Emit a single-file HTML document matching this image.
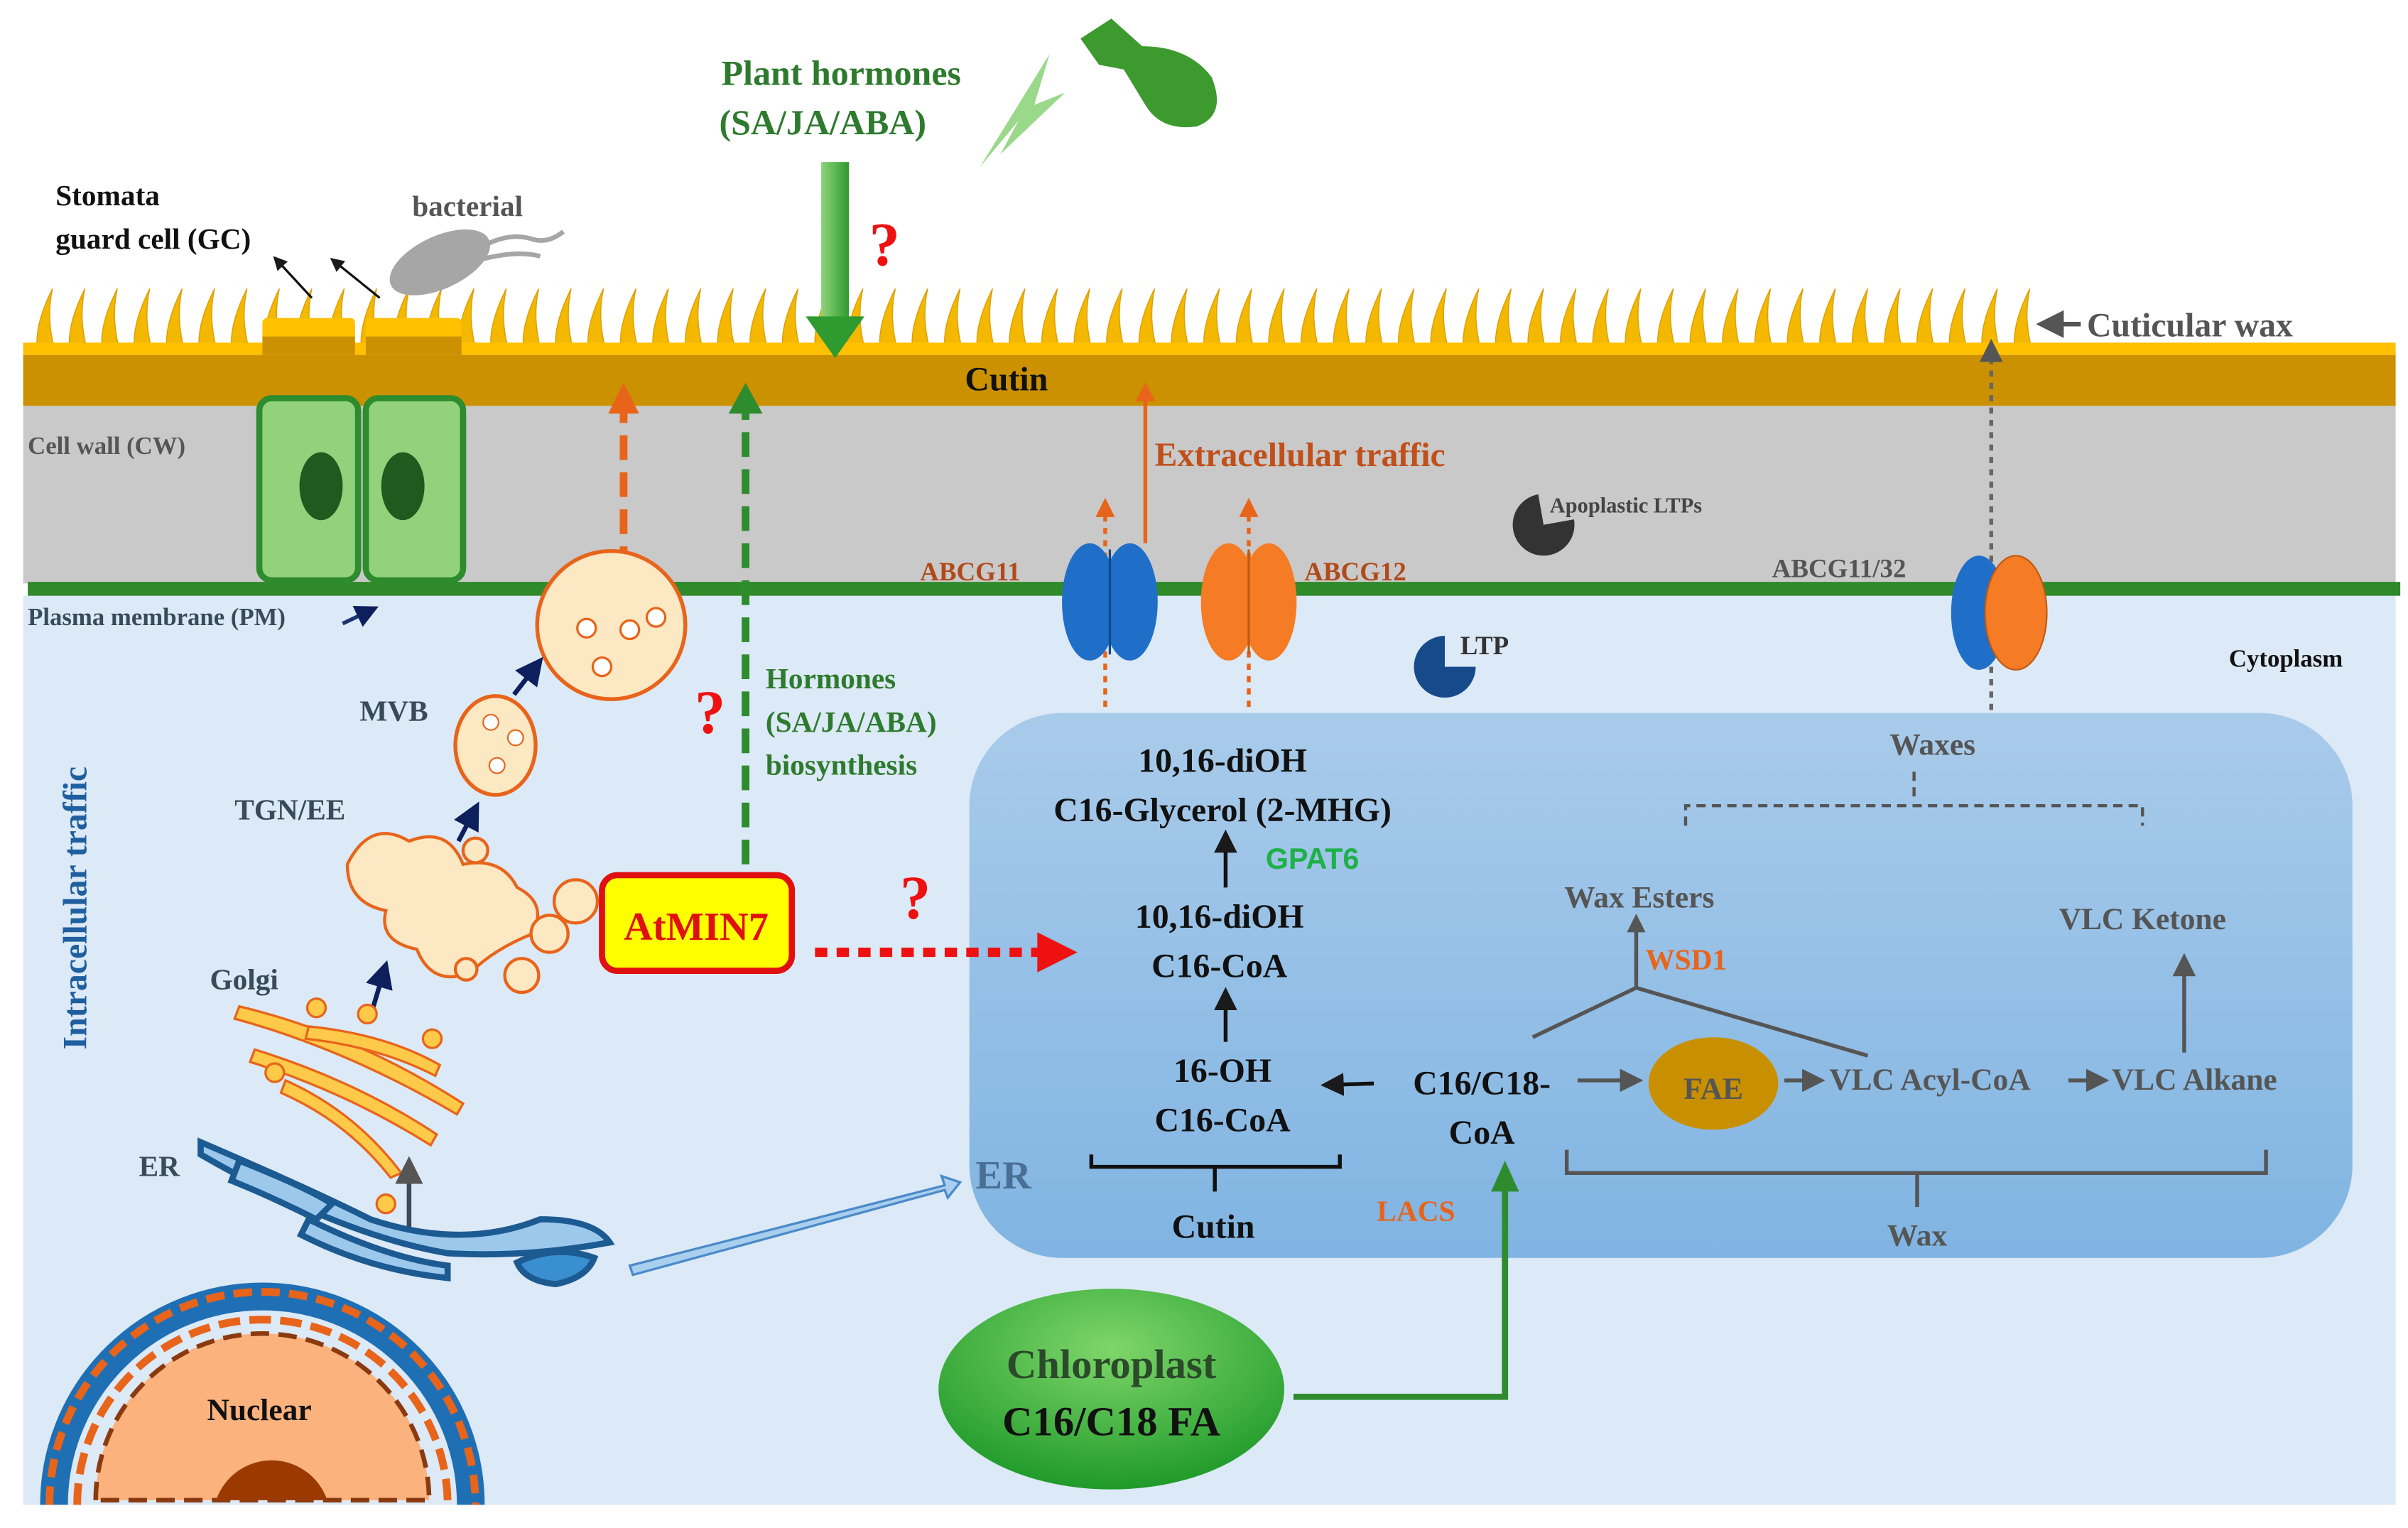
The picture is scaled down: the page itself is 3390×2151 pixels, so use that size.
<!DOCTYPE html>
<html><head><meta charset="utf-8"><style>html,body{margin:0;padding:0;background:#fff}svg{display:block}text{font-family:"Liberation Serif",serif;font-weight:bold}</style></head><body>
<svg width="3390" height="2151" viewBox="0 0 1560 990" preserveAspectRatio="none" xmlns="http://www.w3.org/2000/svg">
<defs>
<pattern id="wax" x="20" y="185" width="21" height="40" patternUnits="userSpaceOnUse">
<path d="M4 40 C3 28 8 14 14 2 C11 16 12 28 15 40 Z" fill="#f4b800" stroke="#d89a00" stroke-width="0.6"/>
</pattern>
<linearGradient id="erg" x1="0" y1="0" x2="0" y2="1"><stop offset="0" stop-color="#a9cbea"/><stop offset="1" stop-color="#80b4e2"/></linearGradient>
<radialGradient id="chl" cx="0.5" cy="0.3" r="0.7"><stop offset="0" stop-color="#7fd66a"/><stop offset="1" stop-color="#1f9a2a"/></radialGradient>
<linearGradient id="garr" x1="0" y1="0" x2="1" y2="0"><stop offset="0" stop-color="#8fd37a"/><stop offset="1" stop-color="#2f9a2f"/></linearGradient>
<marker id="ab" markerWidth="6" markerHeight="6" refX="5" refY="3" orient="auto"><path d="M0 0L6 3L0 6z" fill="#1a1a1a"/></marker>
<marker id="ag" markerWidth="6" markerHeight="6" refX="5" refY="3" orient="auto"><path d="M0 0L6 3L0 6z" fill="#555"/></marker>
<marker id="an" markerWidth="6" markerHeight="6" refX="5" refY="3" orient="auto"><path d="M0 0L6 3L0 6z" fill="#0d1f5c"/></marker>
<marker id="ao" markerWidth="5" markerHeight="5" refX="4" refY="2.5" orient="auto"><path d="M0 0L5 2.5L0 5z" fill="#e8641a"/></marker>
</defs>
<rect x="20" y="185" width="1305" height="40" fill="url(#wax)"/>
<rect x="15" y="222" width="1537" height="8" fill="#ffc000"/>
<rect x="15" y="230" width="1537" height="33" fill="#cc9100"/>
<rect x="15" y="263" width="1537" height="115" fill="#c9c9c9"/>
<rect x="15" y="386" width="1537" height="589" fill="#dce9f6"/>
<rect x="18" y="377" width="1537" height="9" fill="#2f8a2a"/>
<text x="652" y="253" font-size="22" text-anchor="middle" fill="#111">Cutin</text>
<rect x="170" y="206" width="60" height="24" rx="3" fill="#ffc000"/><rect x="170" y="218" width="60" height="12" fill="#cc9100"/>
<rect x="237" y="206" width="62" height="24" rx="3" fill="#ffc000"/><rect x="237" y="218" width="62" height="12" fill="#cc9100"/>
<rect x="168" y="258" width="64" height="118" rx="8" fill="#92d27a" stroke="#2e8b2e" stroke-width="4"/>
<rect x="237" y="258" width="63" height="118" rx="8" fill="#92d27a" stroke="#2e8b2e" stroke-width="4"/>
<ellipse cx="208" cy="315" rx="14" ry="22" fill="#1f5a1f"/><ellipse cx="261" cy="315" rx="14" ry="22" fill="#1f5a1f"/>
<text x="36" y="133" font-size="19" fill="#111">Stomata</text>
<text x="36" y="161" font-size="19" fill="#111">guard cell (GC)</text>
<line x1="202" y1="193" x2="178" y2="167" stroke="#111" stroke-width="1.5" marker-end="url(#ab)"/>
<line x1="246" y1="193" x2="215" y2="168" stroke="#111" stroke-width="1.5" marker-end="url(#ab)"/>
<text x="267" y="140" font-size="19" fill="#555">bacterial</text>
<ellipse cx="285" cy="170" rx="35" ry="17" transform="rotate(-25 285 170)" fill="#a6a6a6"/>
<path d="M312 160 Q330 150 345 155 Q355 158 365 150 M312 168 Q335 162 350 166" stroke="#a6a6a6" stroke-width="3" fill="none"/>
<text x="18" y="294" font-size="16" fill="#555">Cell wall (CW)</text>
<text x="18" y="405" font-size="16" fill="#3a4a5a">Plasma membrane (PM)</text>
<line x1="222" y1="404" x2="243" y2="394" stroke="#1a3370" stroke-width="2.5" marker-end="url(#an)"/>
<text x="545" y="55" font-size="23" text-anchor="middle" fill="#2e7a2e">Plant hormones</text>
<text x="533" y="87" font-size="23" text-anchor="middle" fill="#2e7a2e">(SA/JA/ABA)</text>
<path d="M635 108 L680 35 L670 68 L690 60 L648 100 L660 78 Z" fill="#9ad88a"/>
<path d="M700 25 L720 12 L740 30 Q770 30 785 50 Q795 75 775 82 Q752 85 742 68 L728 45 L712 42 Z" fill="#3d9a2e"/>
<rect x="532" y="105" width="18" height="105" fill="url(#garr)"/>
<path d="M522 205 L560 205 L541 232 Z" fill="#2f9a2f"/>
<text x="563" y="172" font-size="40" fill="#ee1111">?</text>
<text x="1352" y="218" font-size="22" fill="#555">Cuticular wax</text>
<line x1="1348" y1="210" x2="1322" y2="210" stroke="#555" stroke-width="3" marker-end="url(#ag)"/>
<line x1="404" y1="370" x2="404" y2="264" stroke="#e8641a" stroke-width="5" stroke-dasharray="16 8"/>
<path d="M394 268 L414 268 L404 248 Z" fill="#e8641a"/>
<line x1="483" y1="560" x2="483" y2="264" stroke="#2e8b2e" stroke-width="5" stroke-dasharray="16 8"/>
<path d="M472 268 L494 268 L483 248 Z" fill="#2e8b2e"/>
<text x="496" y="446" font-size="19" fill="#2e7a2e">Hormones</text>
<text x="496" y="474" font-size="19" fill="#2e7a2e">(SA/JA/ABA)</text>
<text x="496" y="502" font-size="19" fill="#2e7a2e">biosynthesis</text>
<text x="450" y="475" font-size="40" fill="#ee1111">?</text>
<line x1="742" y1="352" x2="742" y2="250" stroke="#e8641a" stroke-width="2.5" marker-end="url(#ao)"/>
<text x="748" y="302" font-size="22" fill="#c0501a">Extracellular  traffic</text>
<line x1="716" y1="458" x2="716" y2="325" stroke="#e8641a" stroke-width="2.5" stroke-dasharray="4 4" marker-end="url(#ao)"/>
<line x1="809" y1="458" x2="809" y2="325" stroke="#e8641a" stroke-width="2.5" stroke-dasharray="4 4" marker-end="url(#ao)"/>
<line x1="1290" y1="460" x2="1290" y2="222" stroke="#666" stroke-width="2.5" stroke-dasharray="4 4" marker-end="url(#ag)"/>
<text x="596" y="376" font-size="17" fill="#b14a1a">ABCG11</text>
<text x="845" y="376" font-size="17" fill="#b14a1a">ABCG12</text>
<text x="1148" y="374" font-size="17" fill="#555">ABCG11/32</text>
<ellipse cx="706" cy="390" rx="18" ry="38" fill="#1f6fc9"/><ellipse cx="732" cy="390" rx="18" ry="38" fill="#1f6fc9"/><line x1="719" y1="356" x2="719" y2="424" stroke="#0e4a90" stroke-width="1.5"/>
<ellipse cx="796" cy="390" rx="18" ry="38" fill="#f57c24"/><ellipse cx="822" cy="390" rx="18" ry="38" fill="#f57c24"/><line x1="809" y1="356" x2="809" y2="424" stroke="#c05a10" stroke-width="1.5"/>
<ellipse cx="1282" cy="397" rx="18" ry="37" fill="#1f6fc9"/><ellipse cx="1306" cy="397" rx="20" ry="37" fill="#f57c24" stroke="#c05a10"/>
<path d="M1000 340 L1000 320 A20 20 0 1 0 1020 340 Z" fill="#333" transform="rotate(-10 1000 340)"/>
<text x="1004" y="332" font-size="14" fill="#444">Apoplastic LTPs</text>
<path d="M936 432 L936 412 A20 20 0 1 0 956 432 Z" fill="#164a8a"/>
<text x="946" y="424" font-size="17" fill="#333">LTP</text>
<text x="1444" y="432" font-size="16" fill="#111">Cytoplasm</text>
<text transform="translate(56 680) rotate(-90)" font-size="22" fill="#1f5f9f">Intracellular  traffic</text>
<text x="233" y="467" font-size="19" fill="#3a4a5a">MVB</text>
<text x="152" y="531" font-size="19" fill="#3a4a5a">TGN/EE</text>
<text x="136" y="641" font-size="19" fill="#3a4a5a">Golgi</text>
<text x="90" y="762" font-size="19" fill="#3a4a5a">ER</text>
<circle cx="396" cy="405" r="48" fill="#fde8c4" stroke="#e8641a" stroke-width="2.5"/>
<circle cx="380" cy="407" r="6" fill="#fff" stroke="#e8641a" stroke-width="1.5"/><circle cx="408" cy="408" r="6" fill="#fff" stroke="#e8641a" stroke-width="1.5"/><circle cx="425" cy="400" r="6" fill="#fff" stroke="#e8641a" stroke-width="1.5"/><circle cx="390" cy="432" r="6" fill="#fff" stroke="#e8641a" stroke-width="1.5"/>
<ellipse cx="321" cy="483" rx="26" ry="32" fill="#fde8c4" stroke="#e8641a" stroke-width="2.5"/>
<circle cx="318" cy="468" r="5" fill="#fff" stroke="#e8641a"/><circle cx="334" cy="478" r="5" fill="#fff" stroke="#e8641a"/><circle cx="322" cy="496" r="5" fill="#fff" stroke="#e8641a"/>
<line x1="333" y1="450" x2="350" y2="428" stroke="#0d1f5c" stroke-width="3" marker-end="url(#an)"/>
<line x1="297" y1="545" x2="309" y2="522" stroke="#0d1f5c" stroke-width="3" marker-end="url(#an)"/>
<line x1="241" y1="655" x2="250" y2="625" stroke="#0d1f5c" stroke-width="3" marker-end="url(#an)"/>
<g fill="#fde8c4" stroke="#e8641a" stroke-width="2">
<path d="M225 560 Q240 530 265 545 Q290 535 300 560 Q325 555 335 575 Q355 585 345 605 Q320 615 305 630 Q280 640 270 615 Q245 610 250 590 Q225 585 225 560Z"/>
<circle cx="308" cy="551" r="8"/><circle cx="373" cy="584" r="14"/><circle cx="338" cy="632" r="11"/><circle cx="302" cy="628" r="7"/><circle cx="356" cy="605" r="12"/>
</g>
<g fill="#ffc94a" stroke="#e8641a" stroke-width="1.5">
<path d="M155 652 Q230 670 300 715 L296 722 Q225 680 152 660Z"/><path d="M165 680 Q230 700 283 735 L279 742 Q225 708 162 688Z"/>
<path d="M200 665 Q250 670 285 690 L282 697 Q245 678 198 673Z"/><path d="M185 700 Q230 720 260 760 L253 763 Q225 727 182 708Z"/>
<circle cx="205" cy="653" r="6"/><circle cx="238" cy="657" r="6"/><circle cx="280" cy="673" r="6"/><circle cx="178" cy="695" r="6"/><circle cx="250" cy="780" r="6"/>
</g>
<line x1="265" y1="795" x2="265" y2="752" stroke="#3a4a5a" stroke-width="3" marker-end="url(#ag)"/>
<g fill="#9cc8ec" stroke="#1c5a92" stroke-width="4">
<path d="M130 740 Q200 770 240 790 Q300 810 350 790 Q385 790 395 805 Q340 815 290 812 Q220 800 130 748Z"/>
<path d="M155 752 Q200 770 215 780 L205 790 Q175 775 150 765Z"/>
<path d="M200 790 Q250 815 290 820 L290 828 Q240 823 195 800Z"/>
<path d="M335 818 Q360 806 385 815 Q380 828 360 832 Q340 830 335 818Z" fill="#3a8fd0"/>
</g>
<path d="M408 820 L612 768 L610 762 L622 766 L614 776 L612 771 L410 826Z" fill="#a9cfee" stroke="#4a8ac9" stroke-width="1.5"/>
<path d="M35 975 A135 135 0 0 1 305 975" fill="none" stroke="#1f6fb5" stroke-width="18"/>
<path d="M32 975 A138 138 0 0 1 308 975" fill="none" stroke="#e8641a" stroke-width="5" stroke-dasharray="12 6"/>
<path d="M50 975 A120 120 0 0 1 290 975" fill="none" stroke="#e8641a" stroke-width="5" stroke-dasharray="14 6"/>
<path d="M62 972 A108 108 0 0 1 278 972 Z" fill="#fbb27d" stroke="#8b3a10" stroke-width="3" stroke-dasharray="12 6"/>
<path d="M140 972 A38 38 0 0 1 212 972 Z" fill="#9a3a00"/>
<text x="168" y="920" font-size="20" text-anchor="middle" fill="#111">Nuclear</text>
<rect x="390" y="567" width="123" height="62" rx="10" fill="#ffff00" stroke="#e01010" stroke-width="4"/>
<text x="451" y="609" font-size="26" text-anchor="middle" fill="#e01010">AtMIN7</text>
<text x="583" y="595" font-size="40" fill="#ee1111">?</text>
<rect x="628" y="462" width="896" height="353" rx="60" fill="url(#erg)"/>
<line x1="528" y1="617" x2="675" y2="617" stroke="#ee1111" stroke-width="6" stroke-dasharray="8 6"/>
<path d="M672 604 L698 617 L672 630Z" fill="#ee1111"/>
<text x="632" y="770" font-size="26" fill="#4a6f95">ER</text>
<g fill="#111" font-size="22" text-anchor="middle">
<text x="792" y="500">10,16-diOH</text>
<text x="792" y="532">C16-Glycerol (2-MHG)</text>
<text x="790" y="601">10,16-diOH</text>
<text x="790" y="633">C16-CoA</text>
<text x="792" y="701">16-OH</text>
<text x="792" y="733">C16-CoA</text>
<text x="960" y="709">C16/C18-</text>
<text x="960" y="741">CoA</text>
<text x="786" y="802">Cutin</text>
</g>
<text x="820" y="563" font-size="19" fill="#1fb04a" style="font-family:'Liberation Sans',sans-serif">GPAT6</text>
<line x1="794" y1="575" x2="794" y2="540" stroke="#111" stroke-width="2.5" marker-end="url(#ab)"/>
<line x1="794" y1="675" x2="794" y2="642" stroke="#111" stroke-width="2.5" marker-end="url(#ab)"/>
<line x1="890" y1="702" x2="858" y2="703" stroke="#111" stroke-width="2.5" marker-end="url(#ab)"/>
<path d="M707 748 L707 756 L868 756 L868 748 M787 756 L787 772" stroke="#111" stroke-width="2.5" fill="none"/>
<text x="892" y="791" font-size="19" fill="#e8641a">LACS</text>
<g fill="#555" font-size="20">
<text x="1252" y="489" text-anchor="middle">Waxes</text>
<text x="1062" y="588" text-anchor="middle">Wax Esters</text>
<text x="1388" y="602" text-anchor="middle">VLC Ketone</text>
<text x="1185" y="706">VLC Acyl-CoA</text>
<text x="1368" y="706">VLC Alkane</text>
<text x="1242" y="807" text-anchor="middle">Wax</text>
</g>
<path d="M1240 500 L1240 520 M1092 535 L1092 522 L1388 522 L1388 535" stroke="#555" stroke-width="2" stroke-dasharray="6 4" fill="none"/>
<text x="1066" y="628" font-size="19" fill="#e8641a">WSD1</text>
<path d="M993 672 L1060 640 L1210 684 M1060 640 L1060 600" stroke="#555" stroke-width="2.5" fill="none"/>
<path d="M1054 604 L1060 592 L1066 604Z" fill="#555"/>
<line x1="1022" y1="700" x2="1062" y2="700" stroke="#555" stroke-width="2.5" marker-end="url(#ag)"/>
<ellipse cx="1110" cy="702" rx="42" ry="30" fill="#c89000"/>
<text x="1110" y="712" font-size="20" text-anchor="middle" fill="#555">FAE</text>
<line x1="1156" y1="700" x2="1180" y2="700" stroke="#555" stroke-width="2.5" marker-end="url(#ag)"/>
<line x1="1340" y1="700" x2="1364" y2="700" stroke="#555" stroke-width="2.5" marker-end="url(#ag)"/>
<line x1="1415" y1="682" x2="1415" y2="620" stroke="#555" stroke-width="2.5" marker-end="url(#ag)"/>
<path d="M1015 745 L1015 760 L1468 760 L1468 745 M1242 760 L1242 782" stroke="#555" stroke-width="2.5" fill="none"/>
<ellipse cx="720" cy="900" rx="112" ry="65" fill="url(#chl)"/>
<text x="720" y="893" font-size="27" text-anchor="middle" fill="#2a4a2a">Chloroplast</text>
<text x="720" y="930" font-size="27" text-anchor="middle" fill="#111">C16/C18 FA</text>
<path d="M838 905 L975 905 L975 770" stroke="#2e8b2e" stroke-width="4" fill="none"/>
<path d="M966 772 L975 752 L984 772Z" fill="#2e8b2e"/>
</svg>
</body></html>
